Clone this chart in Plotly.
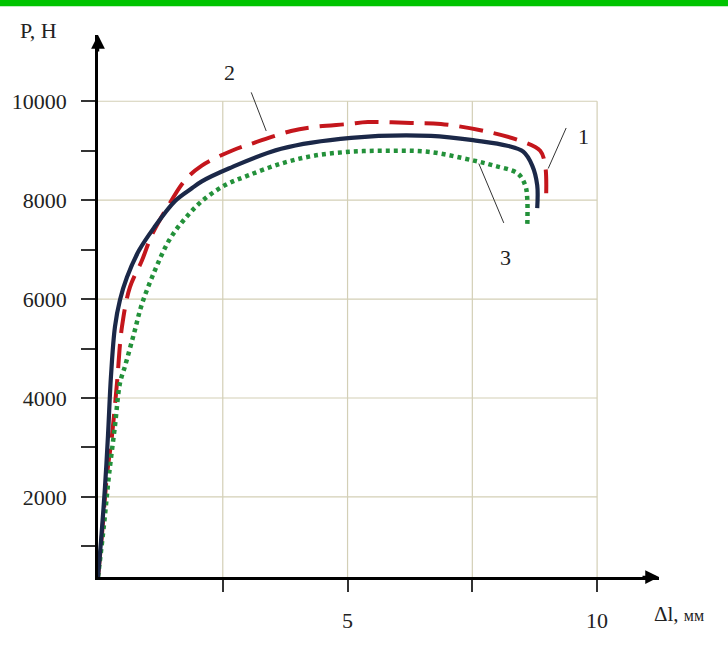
import plotly.graph_objects as go

# ---- data (Δl in mm, P in N) ----
x1 = [0, 0.06, 0.14, 0.2, 0.26, 0.34, 0.44, 0.58, 0.82, 1.12, 1.54, 1.88, 2.08, 2.62, 3.67, 5.07, 6.67, 7.61, 8.2, 8.52, 8.7, 8.8, 8.8]
p1 = [380, 1100, 2200, 3240, 4440, 5440, 5980, 6440, 6980, 7440, 7980, 8240, 8380, 8640, 9040, 9260, 9300, 9200, 9100, 8980, 8700, 8300, 7840]

x2 = [0, 0.08, 0.18, 0.28, 0.38, 0.48, 0.64, 0.88, 1.08, 1.38, 1.74, 2.08, 2.68, 3.13, 3.87, 4.33, 5.01, 5.41, 6.27, 6.87, 7.73, 8.52, 8.86, 8.96, 8.98]
p2 = [380, 1240, 2440, 3240, 4300, 5440, 6240, 6780, 7300, 7840, 8400, 8700, 9000, 9160, 9400, 9480, 9540, 9580, 9560, 9540, 9400, 9180, 9000, 8700, 8140]

x3 = [0, 0.12, 0.22, 0.34, 0.44, 0.54, 0.72, 0.88, 1.14, 1.42, 1.72, 2.08, 2.54, 3.01, 3.67, 4.33, 5.07, 5.81, 6.61, 7.53, 7.93, 8.41, 8.56, 8.6, 8.6]
p3 = [380, 1440, 2440, 3440, 4300, 4640, 5300, 5900, 6580, 7180, 7600, 7980, 8300, 8500, 8740, 8900, 8980, 9000, 8980, 8800, 8700, 8540, 8300, 8040, 7440]

x_ticks = [2.5, 5, 7.5, 10]
x_ticktext = ["", "5", "", "10"]
y_ticks = [1000, 2000, 3000, 4000, 5000, 6000, 7000, 8000, 9000, 10000]
y_ticktext = ["", "2000", "", "4000", "", "6000", "", "8000", "", "10000"]
grid_x = [2.5, 5, 7.5, 10]
grid_y = [2000, 4000, 6000, 8000, 10000]

curve_labels = ["1", "2", "3"]
label_x = [9.72, 2.635, 8.17]
label_y = [9280, 10580, 6840]
leader_x0 = [9.38, 3.07, 7.63]
leader_y0 = [9460, 10180, 8740]
leader_x1 = [9.02, 3.37, 8.13]
leader_y1 = [8640, 9400, 7540]

X_RANGE = [0, 11.24]
Y_RANGE = [380, 11340]

SERIF = "Liberation Serif, Times New Roman, serif"

fig = go.Figure()

fig.add_trace(go.Scatter(x=x2, y=p2, mode="lines",
                         line=dict(color="#c4161c", width=4, dash="24px,11px", shape="spline", smoothing=1.0),
                         showlegend=False, hoverinfo="skip"))
fig.add_trace(go.Scatter(x=x3, y=p3, mode="lines",
                         line=dict(color="#23913a", width=4.5, dash="4px,4px", shape="spline", smoothing=1.0),
                         showlegend=False, hoverinfo="skip"))
fig.add_trace(go.Scatter(x=x1, y=p1, mode="lines",
                         line=dict(color="#1b2848", width=4.2, shape="spline", smoothing=1.0),
                         showlegend=False, hoverinfo="skip"))

shapes = []
grid_col = "#d3cfb6"
for gy in grid_y:
    shapes.append(dict(type="line", xref="x", yref="y", x0=0, x1=grid_x[-1], y0=gy, y1=gy,
                       line=dict(color=grid_col, width=1.2), layer="below"))
for gx in grid_x:
    shapes.append(dict(type="line", xref="x", yref="y", x0=gx, x1=gx, y0=Y_RANGE[0], y1=grid_y[-1],
                       line=dict(color=grid_col, width=1.2), layer="below"))
for a, b, c, d in zip(leader_x0, leader_y0, leader_x1, leader_y1):
    shapes.append(dict(type="line", xref="x", yref="y", x0=a, y0=b, x1=c, y1=d,
                       line=dict(color="#333333", width=1)))
# green band at the top of the picture
shapes.append(dict(type="rect", xref="paper", yref="paper", x0=-0.3, x1=1.3, y0=1.053, y1=1.2,
                   fillcolor="#00c400", line=dict(width=0)))

annotations = []
for t, lx, ly in zip(curve_labels, label_x, label_y):
    annotations.append(dict(x=lx, y=ly, xref="x", yref="y", text=t, showarrow=False,
                            font=dict(family=SERIF, size=22, color="#222222")))
# arrow heads
annotations.append(dict(x=0, y=1, xref="paper", yref="paper", text="", showarrow=True,
                        ax=0, ay=18, arrowhead=2, arrowsize=1.1, arrowwidth=2.5, arrowcolor="#000000"))
annotations.append(dict(x=1, y=0, xref="paper", yref="paper", text="", showarrow=True,
                        ax=-18, ay=0, arrowhead=2, arrowsize=1.1, arrowwidth=2.5, arrowcolor="#000000"))
# axis titles
annotations.append(dict(x=-0.1066, y=1.009, xref="paper", yref="paper", text="P, H", showarrow=False,
                        xanchor="center", yanchor="middle",
                        font=dict(family=SERIF, size=22, color="#222222")))
annotations.append(dict(x=1.036, y=-0.0675, xref="paper", yref="paper",
                        text="Δl, <span style='font-size:16px'>мм</span>", showarrow=False,
                        xanchor="center", yanchor="middle",
                        font=dict(family=SERIF, size=21, color="#222222")))

fig.update_layout(
    width=728, height=645,
    margin=dict(l=96, r=69, t=35, b=62),
    paper_bgcolor="white", plot_bgcolor="white",
    shapes=shapes, annotations=annotations,
    xaxis=dict(range=X_RANGE, showgrid=False, zeroline=False, showline=True, linecolor="#000000",
               linewidth=2.5, ticks="outside", tickvals=x_ticks, ticktext=x_ticktext,
               ticklen=12, tickwidth=1.5, tickcolor="#333333", ticklabelstandoff=10,
               tickfont=dict(family=SERIF, size=22, color="#222222")),
    yaxis=dict(range=Y_RANGE, showgrid=False, zeroline=False, showline=True, linecolor="#000000",
               linewidth=2.5, ticks="outside", tickvals=y_ticks, ticktext=y_ticktext,
               ticklen=14, tickwidth=1.5, tickcolor="#333333", ticklabelstandoff=10,
               tickfont=dict(family=SERIF, size=22, color="#222222")),
)

fig.write_html("out.html")
